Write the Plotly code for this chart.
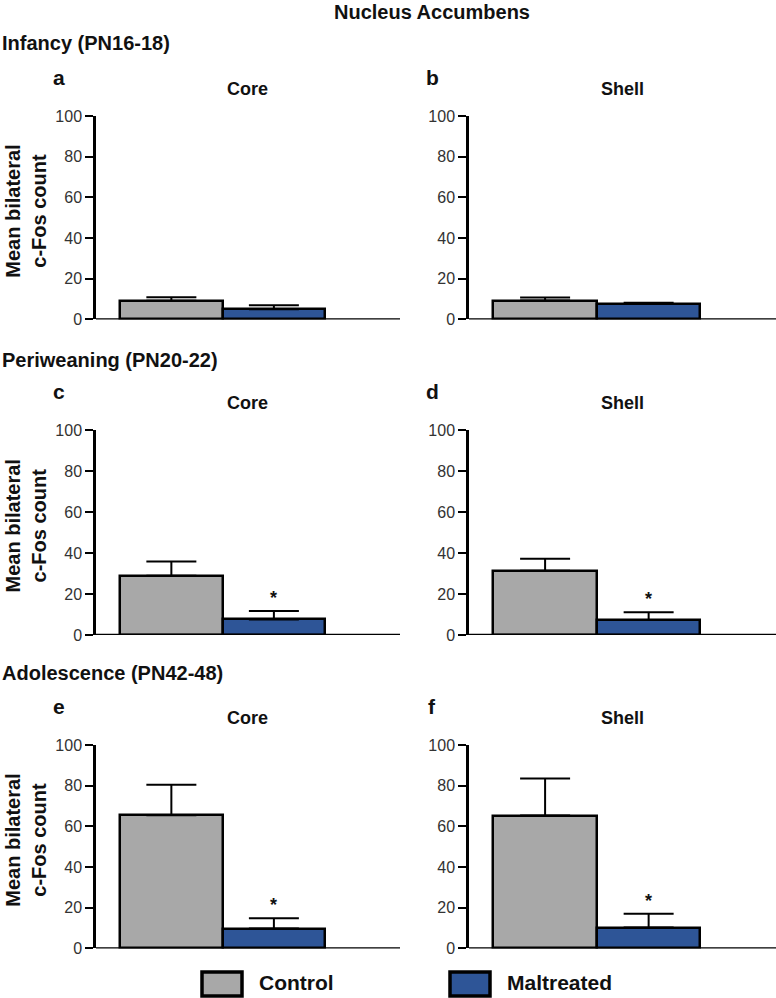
import plotly.graph_objects as go

# ---- data ----
groups = ["Control", "Maltreated"]
panel_letters = ["a", "b", "c", "d", "e", "f"]
regions = ["Core", "Shell", "Core", "Shell", "Core", "Shell"]
age_labels = ["Infancy (PN16-18)", "Periweaning (PN20-22)", "Adolescence (PN42-48)"]
control_mean = [9.2, 9.3, 28.9, 31.3, 65.5, 65.3]
control_top = [10.9, 10.8, 35.8, 37.2, 80.4, 83.5]
maltreated_mean = [5.0, 7.7, 7.6, 7.3, 9.8, 10.3]
maltreated_top = [7.0, 8.2, 11.7, 11.1, 14.9, 17.1]
significant = [False, False, True, True, True, True]
y_ticks = [0, 20, 40, 60, 80, 100]

GRAY = "#a8a8a8"
BLUE = "#2e5597"
FONT = "Liberation Sans, Arial, sans-serif"
W, H = 776, 998

# empirical correction of the vertical placement seen in the rendered page
Y_OFF, Y_SCALE = 8.0, 0.983

def py(p):
    return 1 - ((p - Y_OFF) / Y_SCALE) / H

def pxx(p):
    return p / W

x_domains = [[pxx(96), pxx(400)], [pxx(469), pxx(776)]]
row_px = [(116, 319.5), (430, 635), (745, 948.5)]
row_label_off = [73, 70, 72]
y_domains = [[py(b), py(t)] for (t, b) in row_px]

fig = go.Figure()
annotations = []

for i in range(6):
    r, c = divmod(i, 2)
    ax = "" if i == 0 else str(i + 1)
    xa, ya = "x" + ax, "y" + ax
    vals = [control_mean[i], maltreated_mean[i]]
    tops = [control_top[i], maltreated_top[i]]
    for j, g in enumerate(groups):
        fig.add_trace(go.Bar(
            x=[j], y=[vals[j]], width=1, name=g,
            marker=dict(color=GRAY if j == 0 else BLUE,
                        line=dict(color="black", width=2.5)),
            error_y=dict(type="data", symmetric=False,
                         array=[tops[j] - vals[j]], arrayminus=[0],
                         color="black", thickness=2, width=25),
            xaxis=xa, yaxis=ya, showlegend=False,
        ))
    fig.layout["xaxis" + ax] = dict(
        domain=x_domains[c], range=[-0.735, 2.23], showticklabels=False,
        ticks="", showgrid=False, zeroline=False, showline=False,
        anchor=ya, fixedrange=True)
    fig.layout["yaxis" + ax] = dict(
        domain=y_domains[r], range=[0, 100], tickvals=y_ticks,
        ticks="outside", ticklen=8, tickwidth=2, tickcolor="black",
        showline=True, linecolor="black", linewidth=2.5,
        showgrid=False, zeroline=False, anchor=xa,
        tickfont=dict(family=FONT, size=16, color="#333333"), fixedrange=True)
    fig.add_shape(type="line", xref=xa + " domain", yref=ya,
                  x0=0, x1=1, y0=0, y1=0,
                  line=dict(color="black", width=2.5))
    top_px = row_px[r][0]
    annotations.append(dict(
        text="<b>%s</b>" % regions[i], xref="paper", yref="paper",
        x=sum(x_domains[c]) / 2, y=py(top_px - 27), showarrow=False,
        font=dict(family=FONT, size=18, color="#111"), xanchor="center", yanchor="middle"))
    annotations.append(dict(
        text="<b>%s</b>" % panel_letters[i], xref="paper", yref="paper",
        x=pxx(59 if c == 0 else 432), y=py(top_px - 38), showarrow=False,
        font=dict(family=FONT, size=21, color="#111"), xanchor="center", yanchor="middle"))
    if significant[i]:
        annotations.append(dict(
            text="<b>*</b>", xref=xa, yref=ya, x=1, y=maltreated_top[i],
            showarrow=False, yshift=13, font=dict(family=FONT, size=18, color="#111"),
            xanchor="center", yanchor="middle"))

for r in range(3):
    top_px, bot_px = row_px[r]
    annotations.append(dict(
        text="<b>%s</b>" % age_labels[r], xref="paper", yref="paper",
        x=0, y=py(top_px - row_label_off[r]), showarrow=False, xanchor="left", yanchor="middle",
        font=dict(family=FONT, size=20, color="#111")))
    annotations.append(dict(
        text="<b>Mean bilateral<br>c-Fos count</b>", xref="paper", yref="paper",
        x=pxx(26), y=py((top_px + bot_px) / 2 - 6), showarrow=False, textangle=-90,
        xanchor="center", yanchor="middle",
        font=dict(family=FONT, size=20, color="#111")))

annotations.append(dict(
    text="<b>Nucleus Accumbens</b>", xref="paper", yref="paper",
    x=pxx(432), y=py(12), showarrow=False, xanchor="center", yanchor="middle",
    font=dict(family=FONT, size=20, color="#111")))

legend_items = [(GRAY, groups[0], 202, 257), (BLUE, groups[1], 450, 505)]
for col, name, bx, tx in legend_items:
    fig.add_shape(type="rect", xref="paper", yref="paper",
                  x0=pxx(bx), x1=pxx(bx + 40), y0=py(996), y1=py(972),
                  fillcolor=col, line=dict(color="black", width=3.5))
    annotations.append(dict(
        text="<b>%s</b>" % name, xref="paper", yref="paper",
        x=pxx(tx), y=py(983), showarrow=False, xanchor="left", yanchor="middle",
        font=dict(family=FONT, size=21, color="#111")))

fig.update_layout(
    width=W, height=H, autosize=False, margin=dict(l=0, r=0, t=0, b=0),
    paper_bgcolor="white", plot_bgcolor="white",
    barmode="overlay", bargap=0, annotations=annotations, showlegend=False,
)

fig.write_html(
    "out.html",
    config={"responsive": False, "displayModeBar": False},
    post_script="document.body.style.margin='0px';document.body.style.overflow='hidden';",
)
